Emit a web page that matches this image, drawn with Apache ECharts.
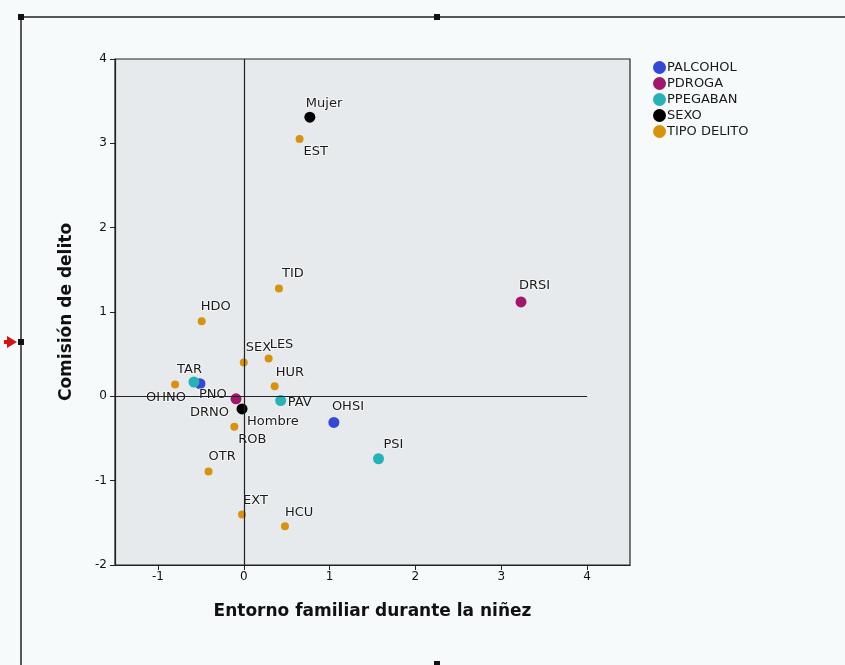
<!DOCTYPE html>
<html>
<head>
<meta charset="utf-8">
<script src="https://cdn.jsdelivr.net/npm/echarts@6/dist/echarts.min.js"></script>
<style>
  html, body { margin: 0; padding: 0; background: #f7fafb; }
  #chart { width: 845px; height: 665px; }
</style>
</head>
<body>
<div id="chart"></div>
<script>
// category points per variable (x = Entorno familiar, y = Comisión de delito)
var palcoholNames = ['OHNO', 'OHSI'];
var palcoholX = [-0.51, 1.05];
var palcoholY = [0.15, -0.31];

var pdrogaNames = ['DRNO', 'DRSI'];
var pdrogaX = [-0.09, 3.23];
var pdrogaY = [-0.03, 1.12];

var ppegabanNames = ['PNO', 'PAV', 'PSI'];
var ppegabanX = [-0.58, 0.43, 1.57];
var ppegabanY = [0.17, -0.05, -0.74];

var sexoNames = ['Mujer', 'Hombre'];
var sexoX = [0.77, -0.02];
var sexoY = [3.31, -0.15];

var delitoNames = ['EST', 'TID', 'HDO', 'SEX', 'LES', 'HUR', 'TAR', 'ROB', 'OTR', 'EXT', 'HCU'];
var delitoX = [0.65, 0.41, -0.49, 0.0, 0.29, 0.36, -0.80, -0.11, -0.41, -0.02, 0.48];
var delitoY = [3.05, 1.28, 0.89, 0.40, 0.45, 0.12, 0.14, -0.36, -0.89, -1.40, -1.54];

var xTicks = [-1, 0, 1, 2, 3, 4];

// where each label sits relative to its point (text left edge, text middle)
var labelOffsets = {
    OHNO: [-54, 14], OHSI: [-2, -16],
    DRNO: [-46, 14], DRSI: [-2, -16],
    PNO: [5, 13], PAV: [7, 2], PSI: [5, -14],
    Mujer: [-4, -14], Hombre: [5, 13],
    EST: [4, 13], TID: [3, -15], HDO: [-1, -15], SEX: [2, -15], LES: [1, -14],
    HUR: [1, -14], TAR: [2, -15], ROB: [4, 13], OTR: [0, -15], EXT: [1, -14], HCU: [0, -14]
};

var colors = ['#3447d6', '#a3166c', '#26b2b6', '#000000', '#d8920f'];

function buildData(names, xs, ys, size) {
    var out = [];
    for (var i = 0; i < names.length; i++) {
        var off = labelOffsets[names[i]] || [4, -14];
        // label position is measured from the symbol box's top-left corner
        out.push({
            name: names[i],
            value: [xs[i], ys[i]],
            label: { position: [size / 2 + off[0], size / 2 + off[1]] }
        });
    }
    return out;
}

function makeSeries(name, names, xs, ys, color, size) {
    return {
        name: name,
        type: 'scatter',
        symbolSize: size,
        itemStyle: { color: color, opacity: 1 },
        data: buildData(names, xs, ys, size),
        label: {
            show: true,
            align: 'left',
            verticalAlign: 'middle',
            formatter: '{b}',
            color: '#1a1a1a',
            fontSize: 13,
            fontFamily: 'DejaVu Sans',
            textBorderColor: 'rgba(255,255,255,0.55)',
            textBorderWidth: 2
        },
        z: 3
    };
}

var chart = echarts.init(document.getElementById('chart'));

var series = [
    makeSeries('PALCOHOL', palcoholNames, palcoholX, palcoholY, colors[0], 11),
    makeSeries('PDROGA', pdrogaNames, pdrogaX, pdrogaY, colors[1], 11),
    makeSeries('PPEGABAN', ppegabanNames, ppegabanX, ppegabanY, colors[2], 11),
    makeSeries('SEXO', sexoNames, sexoX, sexoY, colors[3], 11),
    makeSeries('TIPO DELITO', delitoNames, delitoX, delitoY, colors[4], 8)
];

// reference lines through the origin
series.push({
    type: 'scatter',
    data: [],
    silent: true,
    markLine: {
        silent: true,
        symbol: 'none',
        animation: false,
        label: { show: false },
        lineStyle: { color: '#222', width: 1.2, type: 'solid' },
        data: [
            { xAxis: 0 },
            [{ coord: [-1.5, 0] }, { coord: [4, 0] }]
        ]
    }
});

var option = {
    backgroundColor: '#f7fafb',
    animation: false,
    textStyle: { fontFamily: 'DejaVu Sans' },
    grid: {
        left: 115, top: 59, right: 215, bottom: 100,
        show: true,
        backgroundColor: '#e7eaed',
        borderColor: '#222',
        borderWidth: 1.2
    },
    legend: {
        orient: 'vertical',
        left: 648,
        top: 56,
        icon: 'circle',
        itemWidth: 13,
        itemHeight: 13,
        itemGap: 3,
        textStyle: { color: '#1a1a1a', fontSize: 13, padding: [0, 0, 0, -4] },
        data: ['PALCOHOL', 'PDROGA', 'PPEGABAN', 'SEXO', 'TIPO DELITO']
    },
    xAxis: {
        type: 'value',
        min: -1.5,
        max: 4.5,
        name: 'Entorno familiar durante la niñez',
        nameLocation: 'middle',
        nameGap: 38,
        nameTextStyle: { fontSize: 17, fontWeight: 'bold', color: '#111' },
        axisLine: { show: true, onZero: false, lineStyle: { color: '#222', width: 1.2 } },
        axisTick: { show: true, length: 5, customValues: xTicks, lineStyle: { color: '#222' } },
        axisLabel: { customValues: xTicks, color: '#111', fontSize: 12, margin: 6 },
        splitLine: { show: false }
    },
    yAxis: {
        type: 'value',
        min: -2,
        max: 4,
        interval: 1,
        name: 'Comisión de delito',
        nameLocation: 'middle',
        nameGap: 40,
        nameTextStyle: { fontSize: 17, fontWeight: 'bold', color: '#111' },
        axisLine: { show: true, onZero: false, lineStyle: { color: '#222', width: 1.2 } },
        axisTick: { show: true, length: 5, lineStyle: { color: '#222' } },
        axisLabel: { color: '#111', fontSize: 12, margin: 8 },
        splitLine: { show: false }
    },
    graphic: [
        { type: 'line', shape: { x1: 21, y1: 17, x2: 845, y2: 17 }, style: { stroke: '#222', lineWidth: 1.5 } },
        { type: 'line', shape: { x1: 21, y1: 17, x2: 21, y2: 665 }, style: { stroke: '#222', lineWidth: 1.5 } },
        { type: 'rect', shape: { x: 18, y: 14, width: 6, height: 6 }, style: { fill: '#111' } },
        { type: 'rect', shape: { x: 434, y: 14, width: 6, height: 6 }, style: { fill: '#111' } },
        { type: 'rect', shape: { x: 18, y: 339, width: 6, height: 6 }, style: { fill: '#111' } },
        { type: 'rect', shape: { x: 434, y: 661, width: 6, height: 6 }, style: { fill: '#111' } },
        { type: 'polygon', shape: { points: [[7, 336], [17, 342], [7, 348]] }, style: { fill: '#d41414' } },
        { type: 'rect', shape: { x: 4, y: 340, width: 5, height: 4 }, style: { fill: '#d41414' } }
    ],
    series: series
};

chart.setOption(option);
</script>
</body>
</html>
